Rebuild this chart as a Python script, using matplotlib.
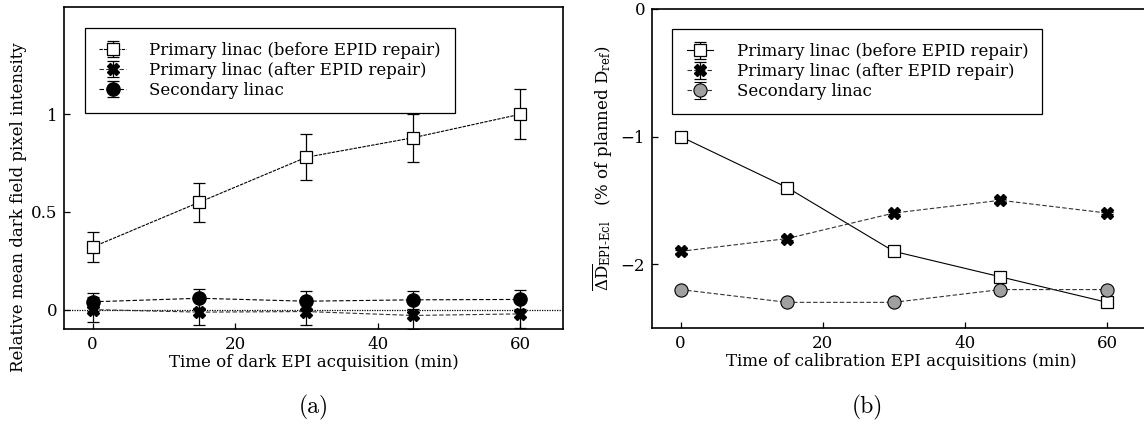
import matplotlib
matplotlib.use("Agg")
import matplotlib.pyplot as plt

plt.rcParams['font.family'] = 'DejaVu Serif'
plt.rcParams['mathtext.fontset'] = 'dejavuserif'
plt.rcParams['font.size'] = 12

# time points (min)
times = [0, 15, 30, 45, 60]
labels = ['Primary linac (before EPID repair)',
          'Primary linac (after EPID repair)',
          'Secondary linac']

# (a) relative mean dark field pixel intensity
dark_before = [0.32, 0.55, 0.78, 0.88, 1.00]
dark_before_err = [0.075, 0.10, 0.117, 0.122, 0.128]
dark_after = [0.00, -0.013, -0.01, -0.03, -0.022]
dark_after_err = [0.065, 0.065, 0.07, 0.07, 0.07]
dark_secondary = [0.040, 0.058, 0.043, 0.050, 0.052]
dark_secondary_err = [0.045, 0.048, 0.05, 0.047, 0.05]

# (b) mean dose difference EPI vs Eclipse (% of planned Dref)
dose_before = [-1.0, -1.4, -1.9, -2.1, -2.3]
dose_before_err = [0.015, 0.015, 0.015, 0.015, 0.015]
dose_after = [-1.9, -1.8, -1.6, -1.5, -1.6]
dose_after_err = [0.01, 0.01, 0.01, 0.01, 0.01]
dose_secondary = [-2.2, -2.3, -2.3, -2.2, -2.2]
dose_secondary_err = [0.005, 0.005, 0.005, 0.005, 0.005]

fig = plt.figure(figsize=(11.44, 4.28), dpi=100)
ax1 = fig.add_axes([0.056, 0.231, 0.436, 0.753])
ax2 = fig.add_axes([0.570, 0.234, 0.435, 0.745])

common = dict(ecolor='black', elinewidth=0.9, capsize=4, capthick=0.9, lw=0.8)
leg_kw = dict(loc='upper left', borderaxespad=0, frameon=True, fancybox=False,
              edgecolor='black', framealpha=1, handlelength=1.6, handletextpad=1.4,
              labelspacing=0.18, borderpad=0.85, fontsize=12)

# panel (a)
ax1.axhline(0, color='black', lw=0.9, ls=(0, (1, 1)))
ax1.errorbar(times, dark_before, yerr=dark_before_err, fmt='s', ls=(0, (3, 1)),
             color='black', mfc='white', mec='black', ms=8.5, mew=0.9,
             label=labels[0], **common)
ax1.errorbar(times, dark_after, yerr=dark_after_err, fmt='X', ls=(0, (4, 2)),
             color='#333333', mfc='black', mec='black', ms=8.5,
             label=labels[1], **common)
ax1.errorbar(times, dark_secondary, yerr=dark_secondary_err, fmt='o', ls=(0, (4, 2)),
             color='black', mfc='black', mec='black', ms=9.5,
             label=labels[2], **common)
ax1.set_xlim(-4, 66)
ax1.set_ylim(-0.1, 1.55)
ax1.set_xticks([0, 20, 40, 60])
ax1.set_yticks([0, 0.5, 1])
ax1.set_yticklabels(['0', '0.5', '1'])
ax1.set_xlabel('Time of dark EPI acquisition (min)', labelpad=1)
ax1.set_ylabel('Relative mean dark field pixel intensity')
ax1.yaxis.set_label_coords(-0.074, 0.38)
leg1 = ax1.legend(bbox_to_anchor=(0.042, 0.935), **leg_kw)
leg1.get_frame().set_linewidth(0.9)

# panel (b)
ax2.errorbar(times, dose_before, yerr=dose_before_err, fmt='s', ls='-',
             color='black', mfc='white', mec='black', ms=8.5, mew=0.9,
             label=labels[0], **common)
ax2.errorbar(times, dose_after, yerr=dose_after_err, fmt='X', ls=(0, (4, 2)),
             color='#333333', mfc='black', mec='black', ms=8.5,
             label=labels[1], **common)
ax2.errorbar(times, dose_secondary, yerr=dose_secondary_err, fmt='o', ls=(0, (4, 2)),
             color='#333333', mfc='#a0a0a0', mec='black', ms=9.5, mew=0.8,
             label=labels[2], **common)
ax2.set_xlim(-4, 66)
ax2.set_ylim(-2.5, 0)
ax2.set_xticks([0, 20, 40, 60])
ax2.set_yticks([0, -1, -2])
ax2.set_xlabel('Time of calibration EPI acquisitions (min)', labelpad=1)
ax2.set_ylabel(r'$\overline{\Delta\mathrm{D}}_{\mathrm{EPI\text{-}Ecl}}$   (% of planned D$_{\mathrm{ref}}$)')
ax2.yaxis.set_label_coords(-0.075, 0.5)
leg2 = ax2.legend(bbox_to_anchor=(0.041, 0.937), **leg_kw)
leg2.get_frame().set_linewidth(0.9)

for ax in (ax1, ax2):
    ax.tick_params(direction='in', length=4, width=0.9, top=False, right=False,
                   labelsize=12, pad=5)
    for sp in ax.spines.values():
        sp.set_linewidth(1.2)

fig.text(0.274, 0.049, '(a)', family='cmr10', fontsize=17, ha='center', va='center')
fig.text(0.758, 0.049, '(b)', family='cmr10', fontsize=17, ha='center', va='center')

fig.savefig('out.png', dpi=100)
